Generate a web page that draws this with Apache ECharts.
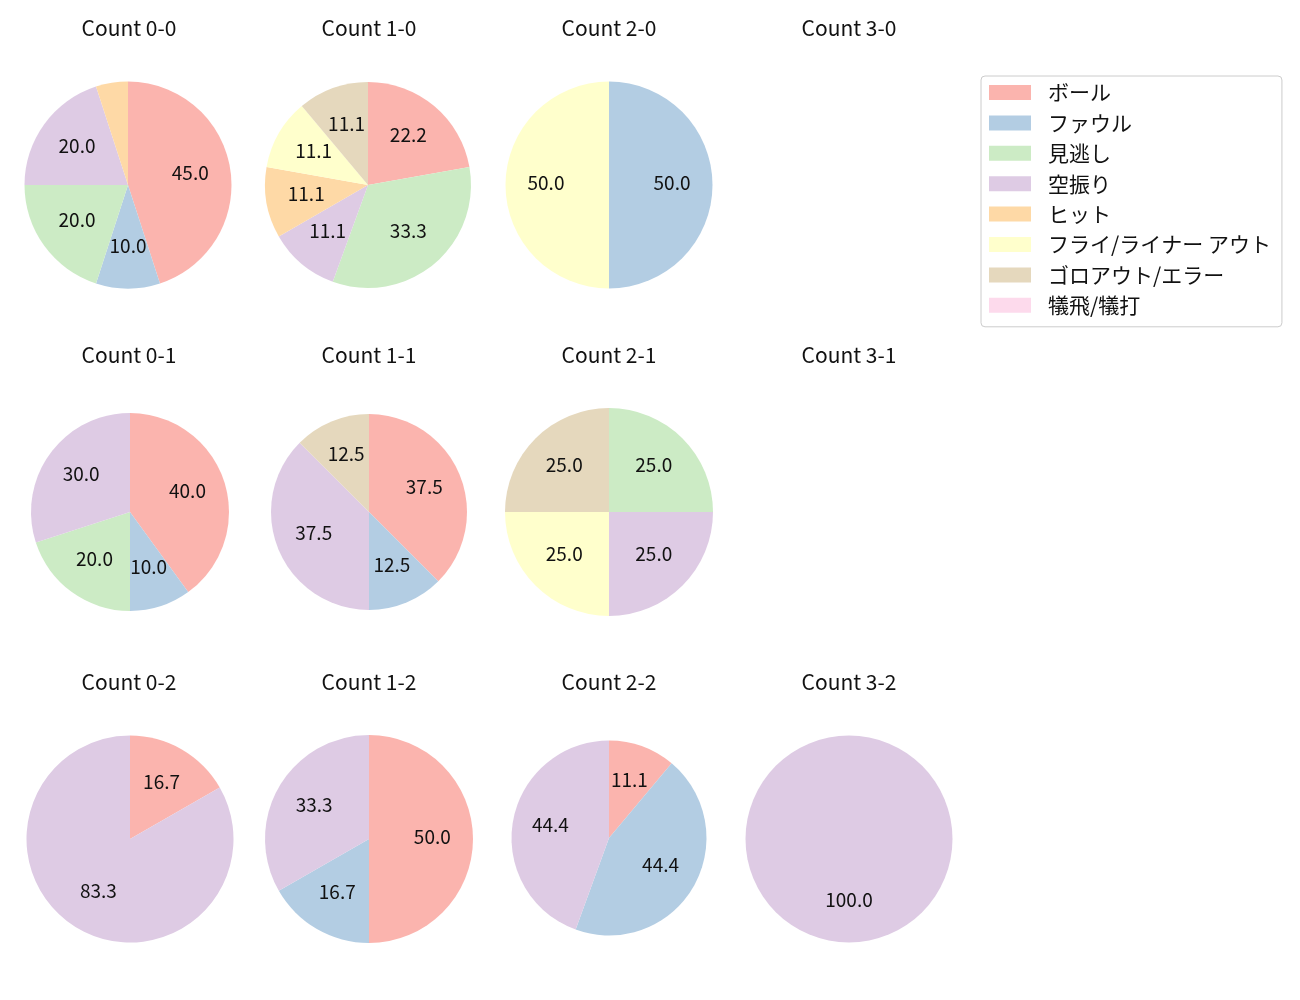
<!DOCTYPE html>
<html>
<head>
<meta charset="utf-8">
<script src="https://cdn.jsdelivr.net/npm/echarts@6/dist/echarts.min.js"></script>
<style>
  html, body { margin: 0; background: #fff; }
  #main { width: 1300px; height: 1000px; }
</style>
</head>
<body>
<div id="main"></div>
<script>
// 凡例カテゴリ
const categories = ['ボール', 'ファウル', '見逃し', '空振り', 'ヒット', 'フライ/ライナー アウト', 'ゴロアウト/エラー', '犠飛/犠打'];
const colors = ['#fbb4ae', '#b3cde3', '#ccebc5', '#decbe4', '#fed9a6', '#ffffcc', '#e5d8bd', '#fddaec'];

// 各カウントの割合(%)、categories の順
const count00 = [45.0, 10.0, 20.0, 20.0, 5.0, 0, 0, 0];
const count10 = [22.2, 0, 33.3, 11.1, 11.1, 11.1, 11.1, 0];
const count20 = [0, 50.0, 0, 0, 0, 50.0, 0, 0];
const count01 = [40.0, 10.0, 20.0, 30.0, 0, 0, 0, 0];
const count11 = [37.5, 12.5, 0, 37.5, 0, 0, 12.5, 0];
const count21 = [0, 0, 25.0, 25.0, 0, 25.0, 25.0, 0];
const count02 = [16.7, 0, 0, 83.3, 0, 0, 0, 0];
const count12 = [50.0, 16.7, 0, 33.3, 0, 0, 0, 0];
const count22 = [11.1, 44.4, 0, 44.4, 0, 0, 0, 0];
const count32 = [0, 0, 0, 100.0, 0, 0, 0, 0];

const titles = ['Count 0-0', 'Count 1-0', 'Count 2-0', 'Count 3-0',
                'Count 0-1', 'Count 1-1', 'Count 2-1', 'Count 3-1',
                'Count 0-2', 'Count 1-2', 'Count 2-2', 'Count 3-2'];
const cellData = [count00, count10, count20, null,
                  count01, count11, count21, null,
                  count02, count12, count22, count32];

// レイアウト (px)
const colX = [129, 369, 609, 849];
const titleY = [29, 356, 683];
const pies = [
  [128, 185, 103.5], [368, 185, 103], [609, 185, 103.5], null,
  [130, 512, 99], [369, 512, 98], [609, 512, 104], null,
  [130, 839, 103.5], [369, 839, 104], [609, 838, 97.5], [849, 839, 103.5]
];

const FONT = "'Noto Sans CJK JP', 'Noto Sans', sans-serif";

const title = titles.map((t, i) => ({
  text: t,
  left: colX[i % 4],
  top: titleY[Math.floor(i / 4)] - 11,
  textAlign: 'center',
  padding: 0,
  textStyle: { fontFamily: FONT, fontSize: 21, fontWeight: 'normal', color: '#111' }
}));

const mainSeries = [];
const labelSeries = [];
cellData.forEach((vals, i) => {
  if (!vals) return;
  const [cx, cy, r] = pies[i];
  const data = categories.map((name, k) => ({
    name: name,
    value: vals[k],
    itemStyle: { color: colors[k] }
  }));
  mainSeries.push({
    type: 'pie',
    center: [cx, cy],
    radius: [0, r],
    startAngle: 90,
    clockwise: true,
    silent: true,
    animation: false,
    label: { show: false },
    labelLine: { show: false },
    itemStyle: { borderWidth: 0 },
    emphasis: { disabled: true },
    data: data
  });
  // ラベル用の透明な重ね (中心から約 0.6r、文字の沈みを補正)
  labelSeries.push({
    type: 'pie',
    center: [cx, cy - 2.5],
    radius: [0.16 * r, r],
    startAngle: 90,
    clockwise: true,
    silent: true,
    animation: false,
    legendHoverLink: false,
    itemStyle: { color: 'rgba(0,0,0,0)', borderWidth: 0 },
    emphasis: { disabled: true },
    labelLine: { show: false },
    label: {
      show: true,
      position: 'inside',
      fontFamily: FONT,
      fontSize: 19,
      color: '#111',
      formatter: p => (p.value >= 7 ? p.value.toFixed(1) : '')
    },
    data: categories.map((name, k) => ({ name: name, value: vals[k] }))
  });
});

const chart = echarts.init(document.getElementById('main'));
chart.setOption({
  backgroundColor: '#fff',
  animation: false,
  title: title,
  legend: {
    orient: 'vertical',
    left: 981,
    top: 76,
    padding: [6, 11, 11, 8],
    borderColor: '#ccc',
    borderWidth: 1,
    borderRadius: 4,
    itemWidth: 42,
    itemHeight: 15,
    itemGap: 9.4,
    icon: 'rect',
    selectedMode: false,
    textStyle: { fontFamily: FONT, fontSize: 21, color: '#111', lineHeight: 18, padding: [0, 0, 0, 12] },
    data: categories.map((name, k) => ({ name: name, itemStyle: { color: colors[k] } }))
  },
  series: mainSeries.concat(labelSeries)
});
</script>
</body>
</html>
